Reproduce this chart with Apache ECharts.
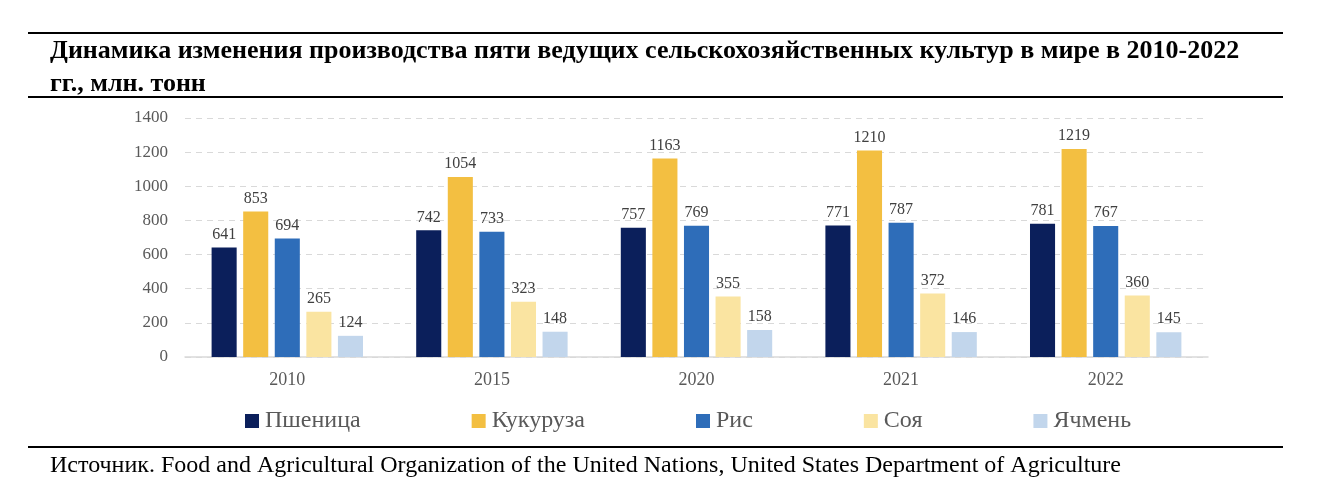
<!DOCTYPE html>
<html>
<head>
<meta charset="utf-8">
<script src="https://cdn.jsdelivr.net/npm/echarts@6/dist/echarts.min.js"></script>
<style>
  html, body { margin: 0; padding: 0; background: #fff; }
  #chart { width: 1322px; height: 494px; }
</style>
</head>
<body>
<div id="chart"></div>
<script>
// данные с картинки, млн. тонн
var years = ['2010', '2015', '2020', '2021', '2022'];
var wheat = [641, 742, 757, 771, 781];
var corn = [853, 1054, 1163, 1210, 1219];
var rice = [694, 733, 769, 787, 767];
var soy = [265, 323, 355, 372, 360];
var barley = [124, 148, 158, 146, 145];
var cropNames = ['Пшеница', 'Кукуруза', 'Рис', 'Соя', 'Ячмень'];
var cropColors = ['#0B1F5B', '#F3BF41', '#2E6DB9', '#FAE4A1', '#C2D6EC'];
var yTicks = [0, 200, 400, 600, 800, 1000, 1200, 1400];

var serif = '"Liberation Serif", "DejaVu Serif", serif';

function makeSeries(name, values, color) {
	return {
		name: name,
		type: 'bar',
		data: values,
		barGap: '26%',
		barCategoryGap: '26%',
		itemStyle: { color: color },
		label: {
			show: true,
			position: 'top',
			distance: 5,
			fontFamily: serif,
			fontSize: 16,
			color: '#404040'
		}
	};
}

var chart = echarts.init(document.getElementById('chart'));
var option = {
	animation: false,
	title: [{
		text: 'Динамика изменения производства пяти ведущих сельскохозяйственных культур в мире в 2010-2022\nгг., млн. тонн',
		left: 45,
		top: 30,
		textStyle: {
			fontFamily: serif,
			fontWeight: 'bold',
			fontSize: 26,
			lineHeight: 33,
			color: '#000'
		}
	}, {
		text: 'Источник. Food and Agricultural Organization of the United Nations, United States Department of Agriculture',
		left: 45,
		top: 449,
		textStyle: {
			fontFamily: serif,
			fontWeight: 'normal',
			fontSize: 24,
			color: '#000'
		}
	}],
	graphic: [
		{ type: 'line', shape: { x1: 28, y1: 33, x2: 1283, y2: 33 }, style: { stroke: '#000', lineWidth: 2 } },
		{ type: 'line', shape: { x1: 28, y1: 97, x2: 1283, y2: 97 }, style: { stroke: '#000', lineWidth: 2 } },
		{ type: 'line', shape: { x1: 28, y1: 447, x2: 1283, y2: 447 }, style: { stroke: '#000', lineWidth: 2 } }
	],
	legend: {
		data: cropNames,
		left: 240,
		top: 404,
		itemWidth: 14,
		itemHeight: 14,
		itemGap: 111,
		icon: 'rect',
		textStyle: {
			fontFamily: serif,
			fontSize: 24,
			color: '#595959',
			padding: [0, 0, 0, 1]
		}
	},
	grid: {
		left: 185,
		right: 114,
		top: 118,
		bottom: 137
	},
	xAxis: {
		type: 'category',
		data: years,
		axisTick: { show: false },
		axisLine: { lineStyle: { color: '#D9D9D9', width: 1.5 } },
		axisLabel: {
			margin: 14,
			fontFamily: serif,
			fontSize: 18,
			color: '#595959'
		}
	},
	yAxis: {
		type: 'value',
		min: yTicks[0],
		max: yTicks[yTicks.length - 1],
		interval: 200,
		axisLine: { show: false },
		axisTick: { show: false },
		splitLine: { lineStyle: { color: '#D9D9D9', type: [6, 5] } },
		axisLabel: {
			margin: 17,
			fontFamily: serif,
			fontSize: 17,
			color: '#595959',
			formatter: function (v) { return String(v); }
		}
	},
	series: [
		makeSeries(cropNames[0], wheat, cropColors[0]),
		makeSeries(cropNames[1], corn, cropColors[1]),
		makeSeries(cropNames[2], rice, cropColors[2]),
		makeSeries(cropNames[3], soy, cropColors[3]),
		makeSeries(cropNames[4], barley, cropColors[4])
	]
};
chart.setOption(option);
</script>
</body>
</html>
